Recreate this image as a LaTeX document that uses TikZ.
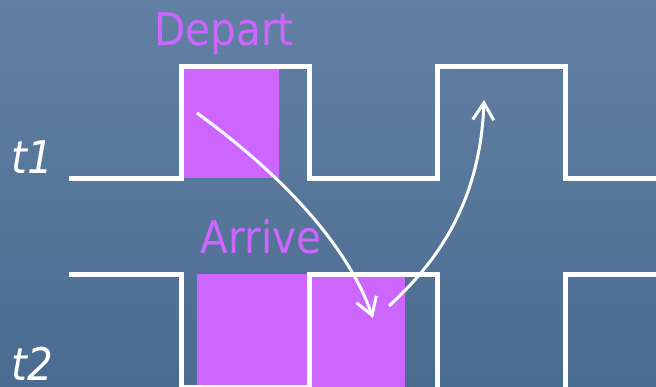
\documentclass[tikz,border=0pt]{standalone}
\usepackage{fontspec}
\usetikzlibrary{arrows.meta}
\newfontfamily\lblfont{DejaVu Sans Condensed}
\definecolor{bgtop}{RGB}{98,128,164}
\definecolor{bgbot}{RGB}{74,108,144}
\definecolor{slot}{RGB}{204,102,255}
\begin{document}
\begin{tikzpicture}[x=1pt,y=-1pt,
  wave/.style={draw=white,line width=5pt,line join=miter},
  slotbox/.style={fill=slot,draw=none},
  hop/.style={draw=white,line width=3pt,-{Straight Barb[length=17pt,width=21pt,line width=3pt]}},
  title/.style={text=slot,font=\lblfont\fontsize{45}{54}\selectfont,inner sep=0pt,anchor=base},
  sig/.style={text=white,font=\lblfont\itshape\fontsize{45}{54}\selectfont,inner sep=0pt,anchor=base west}]
  % backdrop
  \shade[top color=bgtop,bottom color=bgbot] (0,0) rectangle (656,386);
  \useasboundingbox (0,0) rectangle (656,386);

  % occupied time slots
  \path[slotbox] (184,66) rectangle (279,178);
  \path[slotbox] (197,274) rectangle (310,388);
  \path[slotbox] (309,274) rectangle (405,388);

  % clock t1
  \draw[wave] (69,178.5) -- (181.5,178.5) -- (181.5,66) -- (309.5,66) -- (309.5,178.5)
    -- (437.5,178.5) -- (437.5,66) -- (565,66) -- (565,178.5) -- (660,178.5);
  % clock t2
  \draw[wave] (69,274) -- (181.5,274) -- (181.5,387) -- (309.5,387) -- (309.5,274)
    -- (437.5,274) -- (437.5,392) -- (565,392) -- (565,274) -- (660,274);

  % labels
  \node[title] (dep) at (224,45) {Depart};
  \node[title] (arr) at (261,253) {Arrive};
  \node[sig] (t1) at (11,173) {t1};
  \node[sig] (t2) at (11,380) {t2};

  % transfer arrows
  \coordinate (a0) at (197,113);
  \coordinate (a1) at (373,318);
  \coordinate (b0) at (389,306);
  \coordinate (b1) at (484,100);
  \draw[hop] (a0) .. controls (300,188) and (352,258) .. (a1);
  \draw[hop] (b0) .. controls (430,268) and (480,210) .. (b1);
\end{tikzpicture}
\end{document}
